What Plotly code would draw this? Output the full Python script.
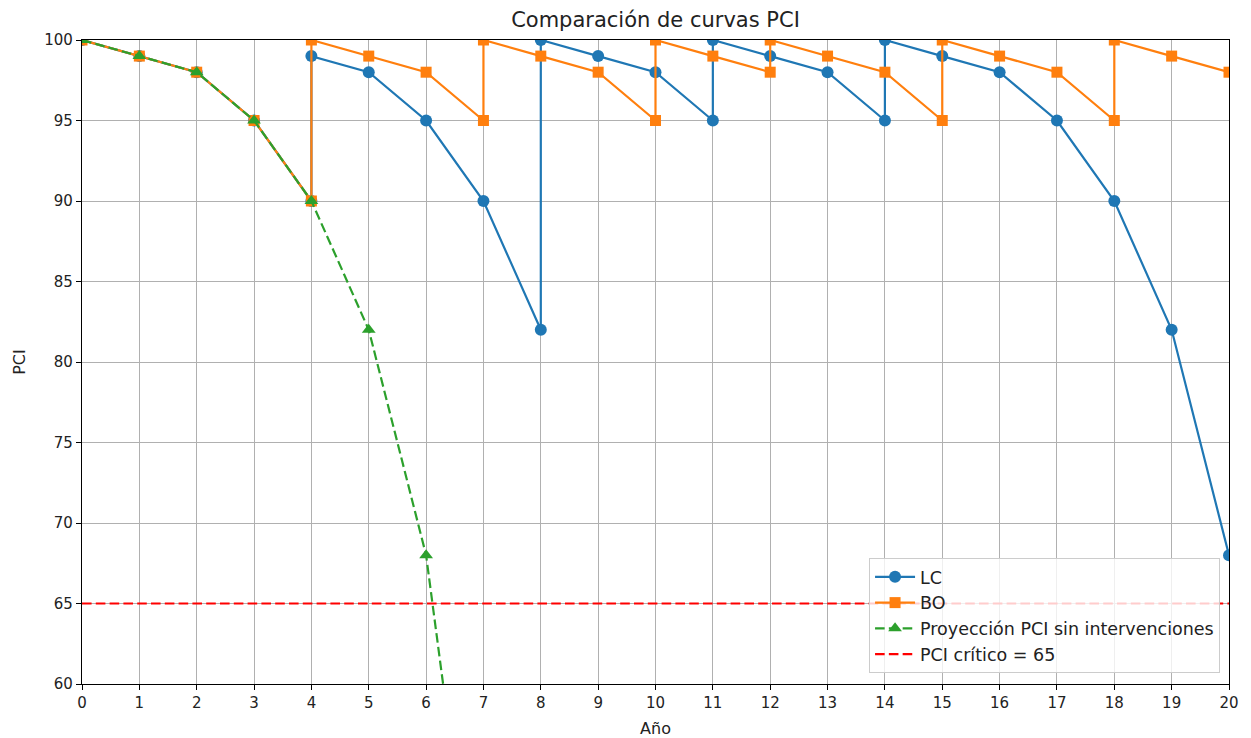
import plotly.graph_objects as go

# LC series
lc_x = [0, 1, 2, 3, 4, 4, 5, 6, 7, 8, 8, 9, 10, 11, 11, 12, 13, 14, 14, 15, 16, 17, 18, 19, 20]
lc_y = [100, 99, 98, 95, 90, 99, 98, 95, 90, 82, 100, 99, 98, 95, 100, 99, 98, 95, 100, 99, 98, 95, 90, 82, 68]

# BO series
bo_x = [0, 1, 2, 3, 4, 4, 5, 6, 7, 7, 8, 9, 10, 10, 11, 12, 12, 13, 14, 15, 15, 16, 17, 18, 18, 19, 20]
bo_y = [100, 99, 98, 95, 90, 100, 99, 98, 95, 100, 99, 98, 95, 100, 99, 98, 100, 99, 98, 95, 100, 99, 98, 95, 100, 99, 98]

# Projection without interventions
proj_x = [0, 1, 2, 3, 4, 5, 6, 7]
proj_y = [100, 99, 98, 95, 90, 82, 68, 41]

# Critical PCI
crit_x = [0, 20]
crit_y = [65, 65]

x_ticks = list(range(0, 21))
y_ticks = [60, 65, 70, 75, 80, 85, 90, 95, 100]

FONT = "DejaVu Sans"
dash = "9.6px,4.2px"

fig = go.Figure()
fig.add_trace(go.Scatter(x=lc_x, y=lc_y, mode="lines+markers", name="LC", legendgroup="a",
                         line=dict(color="#1f77b4", width=2.2),
                         marker=dict(symbol="circle", size=12, color="#1f77b4")))
fig.add_trace(go.Scatter(x=bo_x, y=bo_y, mode="lines+markers", name="BO", legendgroup="b",
                         line=dict(color="#ff7f0e", width=2.2),
                         marker=dict(symbol="square", size=11, color="#ff7f0e")))
fig.add_trace(go.Scatter(x=proj_x, y=proj_y, mode="lines+markers", legendgroup="c",
                         name="Proyección PCI sin intervenciones",
                         line=dict(color="#2ca02c", width=2.2, dash=dash),
                         marker=dict(symbol="triangle-up", size=12, color="#2ca02c")))
fig.add_trace(go.Scatter(x=crit_x, y=crit_y, mode="lines", name="PCI crítico = 65", legendgroup="d",
                         line=dict(color="#ff0000", width=2.2, dash=dash)))

axis_common = dict(showline=True, linecolor="black", linewidth=1.2, mirror=True,
                   ticks="outside", ticklen=5, tickcolor="black", tickwidth=1.2,
                   showgrid=True, gridcolor="#b0b0b0", gridwidth=1, zeroline=False,
                   automargin=False,
                   tickfont=dict(family=FONT, size=15, color="#222222"))

fig.update_layout(
    width=1251, height=738,
    margin=dict(l=82, r=22, t=40, b=54),
    paper_bgcolor="white", plot_bgcolor="white",
    font=dict(family=FONT, size=15, color="#222222"),
    title=dict(text="Comparación de curvas PCI", x=0.5, xref="paper", xanchor="center",
               y=1 - 20 / 738, yref="container", yanchor="middle",
               font=dict(family=FONT, size=21, color="#222222")),
    xaxis=dict(range=[0, 20], tickvals=x_ticks,
               title=dict(text="Año", font=dict(family=FONT, size=16), standoff=11),
               **axis_common),
    yaxis=dict(range=[60, 100], tickvals=y_ticks,
               title=dict(text="PCI", font=dict(family=FONT, size=16), standoff=14),
               **axis_common),
    legend=dict(x=0.9922, y=0.0171, xanchor="right", yanchor="bottom",
                bgcolor="rgba(255,255,255,0.8)", bordercolor="#cccccc", borderwidth=1,
                font=dict(family=FONT, size=17.5, color="#222222"),
                tracegroupgap=0, itemwidth=40),
    showlegend=True,
)

fig.write_html("out.html", config={"displayModeBar": False},
               post_script="document.body.style.margin='0';document.body.style.overflow='hidden';")
